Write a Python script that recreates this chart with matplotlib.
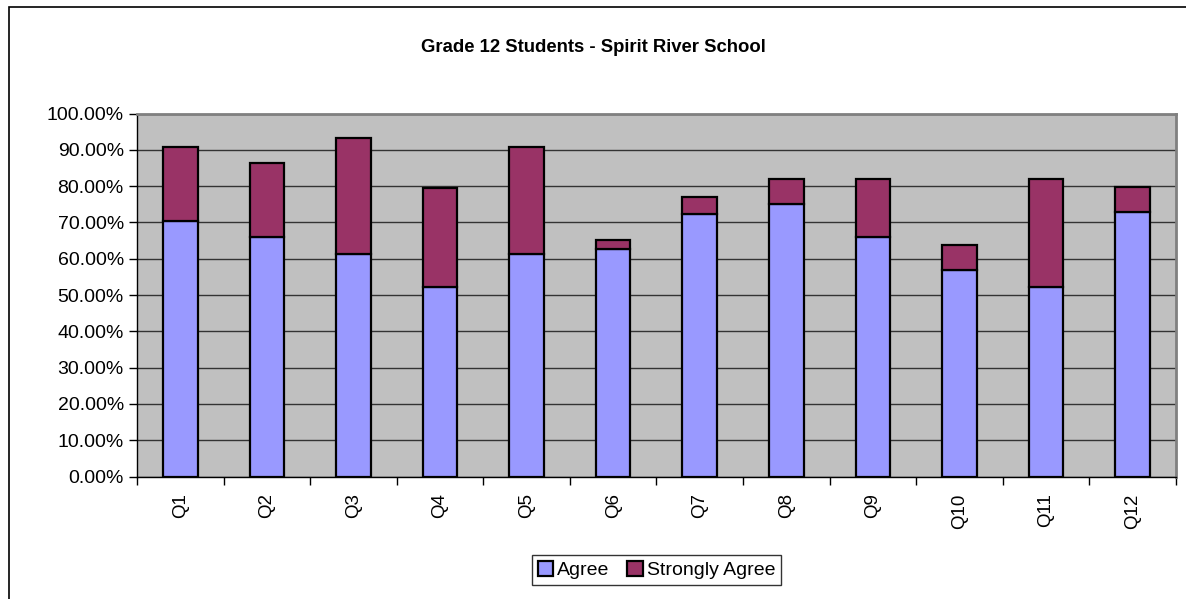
import numpy as np
import matplotlib.pyplot as plt
from matplotlib.ticker import PercentFormatter
from matplotlib.patches import Rectangle

plt.rcParams["font.family"] = ["Liberation Sans", "DejaVu Sans"]

# 数据
questions = ["Q1", "Q2", "Q3", "Q4", "Q5", "Q6", "Q7", "Q8", "Q9", "Q10", "Q11", "Q12"]
agree = [70.5, 65.9, 61.4, 52.3, 61.4, 62.8, 72.3, 75.2, 66.0, 56.9, 52.3, 72.8]
total = [90.9, 86.4, 93.2, 79.6, 90.9, 65.1, 76.9, 82.0, 82.0, 63.7, 82.0, 79.7]
strongly_agree = [t - a for t, a in zip(total, agree)]

fig = plt.figure(figsize=(11.86, 5.99), dpi=100)
ax = fig.add_axes([0.1155, 0.2045, 0.876, 0.606])

# 外框
fig.patches.append(Rectangle((9 / 1186, -0.05), 1.2, 1 - 7 / 599 + 0.05,
                             transform=fig.transFigure, fill=False,
                             edgecolor="black", linewidth=1.2))

x = np.arange(len(questions))
ax.bar(x, agree, width=0.4, color="#9999FF", edgecolor="black", linewidth=1.6,
       label="Agree", zorder=3)
ax.bar(x, strongly_agree, width=0.4, bottom=agree, color="#993366",
       edgecolor="black", linewidth=1.6, label="Strongly Agree", zorder=3)

ax.set_facecolor("#C0C0C0")
ax.set_xlim(-0.5, len(questions) - 0.5)
ax.set_ylim(0, 100)
ax.set_yticks(np.arange(0, 101, 10))
ax.yaxis.set_major_formatter(PercentFormatter(decimals=2))
ax.grid(axis="y", color="#333333", linewidth=1, zorder=1)

ax.set_xticks(x)
ax.set_xticklabels(questions, rotation=90, fontsize=13.5)
ax.set_xticks(np.arange(-0.5, len(questions)), minor=True)
ax.tick_params(axis="x", which="major", length=0, pad=12)
ax.tick_params(axis="x", which="minor", length=6, width=1, direction="out")
ax.tick_params(axis="y", labelsize=14, length=6, width=1, direction="out")

for side in ["top", "right"]:
    ax.spines[side].set_color("#808080")
    ax.spines[side].set_linewidth(2)
for side in ["left", "bottom"]:
    ax.spines[side].set_color("black")
    ax.spines[side].set_linewidth(1)

fig.text(0.5, 1 - 48 / 599, "Grade 12 Students - Spirit River School",
         ha="center", va="center", fontsize=13.3, fontweight="bold")

leg = ax.legend(loc="center", bbox_to_anchor=(0.5, -0.258), ncol=2, fontsize=14,
                frameon=True, fancybox=False, edgecolor="black",
                handlelength=0.8, handleheight=0.8, handletextpad=0.2,
                columnspacing=0.9, borderpad=0.3)
leg.get_frame().set_linewidth(1)

fig.savefig("out.png", dpi=100)
